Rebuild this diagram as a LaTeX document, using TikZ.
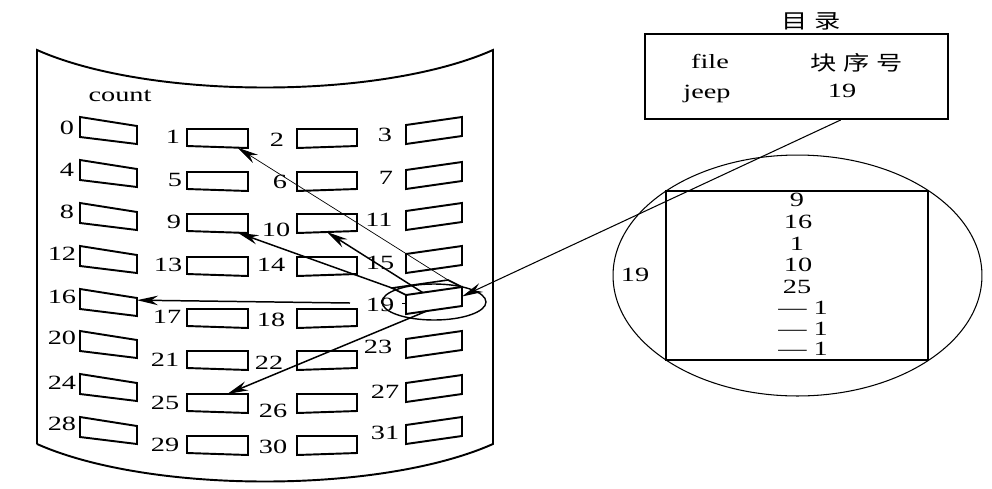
\documentclass[tikz,border=0pt]{standalone}
\usepackage{fontspec}
\setmainfont[FakeStretch=1.4]{Liberation Serif}
\newfontfamily\cjk[FakeStretch=1.3]{Noto Sans CJK SC}
\usetikzlibrary{arrows.meta,calc,shapes.geometric}

\begin{document}
\begin{tikzpicture}[
  x=0.02cm, y=-0.02cm,
  every node/.style={inner sep=0pt, font=\fontsize{11.5}{13}\selectfont},
  cjktext/.style={font=\cjk\fontsize{11.5}{13}\selectfont},
  cell/.style={draw, line width=1.1pt},
  disk/.style={draw, line width=1.1pt},
  ptr/.style={-{Stealth[length=4.2mm, width=1.9mm]}, line width=0.85pt},
  thinptr/.style={-{Stealth[length=4.2mm, width=1.9mm]}, line width=0.4pt}
]
\useasboundingbox (0,0) rectangle (992,488);

% disk surface
\draw[disk] (37,444) -- (37,50) .. controls (150,100) and (380,100) .. (493,50)
  -- (493,444) .. controls (380,494) and (150,494) .. (37,444);
\node (count) at (120,96) {count};

% blocks, one loop per column
\foreach \n/\r in {0/117,4/160,8/203,12/246,16/289,20/331,24/374,28/417} {
  \coordinate (blk\n-nw) at (80,\r);
  \coordinate (blk\n-ne) at (137,\r+9);
  \coordinate (blk\n-se) at (137,\r+27);
  \coordinate (blk\n-sw) at (80,\r+20);
}
\foreach \n/\r in {1/129,5/172,9/214,13/257,17/309,21/351,25/394,29/436} {
  \coordinate (blk\n-nw) at (187,\r);
  \coordinate (blk\n-ne) at (248,\r);
  \coordinate (blk\n-se) at (248,\r+19);
  \coordinate (blk\n-sw) at (187,\r+17);
}
\foreach \n/\r in {2/129,6/172,10/214,14/257,18/309,22/351,26/394,30/436} {
  \coordinate (blk\n-nw) at (297,\r);
  \coordinate (blk\n-ne) at (357,\r);
  \coordinate (blk\n-se) at (357,\r+17);
  \coordinate (blk\n-sw) at (297,\r+19);
}
\foreach \n/\r in {3/117,7/162,11/203,15/246,19/287,23/331,27/375,31/417} {
  \coordinate (blk\n-nw) at (406,\r+8);
  \coordinate (blk\n-ne) at (462,\r);
  \coordinate (blk\n-se) at (462,\r+19);
  \coordinate (blk\n-sw) at (406,\r+27);
}
\foreach \n in {0,...,31}
  \draw[cell] (blk\n-nw) -- (blk\n-ne) -- (blk\n-se) -- (blk\n-sw) -- cycle;

% block numbers
\foreach \n/\x/\y in {0/67/128,4/67/170,8/67/212,12/62/254,16/62/297,20/62/338,24/62/383,28/62/424,
  1/173/137,5/175/180,9/174/222,13/168/265,17/167/317,21/165/360,25/165/403,29/165/445,
  2/277/140,6/280/182,10/276/230,14/271/265,18/271/320,22/269/363,26/273/411,30/273/447,
  3/385/135,7/386/178,11/379/220,15/380/263,19/380/305,23/378/347,27/385/392,31/385/433}
  \node (num\n) at (\x,\y) {\n};

% block 19 drawn as a box, circled
\coordinate (top19-w) at ($(blk19-nw)+(-14,-7)$);
\coordinate (top19-e) at ($(blk19-ne)+(-14,-7)$);
\draw[line width=0.9pt] (blk19-nw) -- (top19-w) -- (top19-e) -- (blk19-ne);
\draw[line width=0.8pt] ($(blk19-nw)!0.45!(blk19-sw)+(-4,0)$) -- ++(5,0);
\node[draw, ellipse, line width=0.8pt, minimum width=2.08cm, minimum height=0.72cm] (sel) at (434,302) {};

% directory
\node[draw, line width=1.1pt, minimum width=6.06cm, minimum height=1.7cm] (dir) at (796.5,76.5) {};
\node[cjktext] (dirtitle) at (811.5,21) {目\hspace{3.8pt}录};
\node[anchor=base] (hfile) at (710,68) {file};
\node[cjktext] (hblk) at (857,63) {块\hspace{3.8pt}序\hspace{3.8pt}号};
\node[anchor=base] (fname) at (707,98) {jeep};
\node[anchor=base] (fblk) at (842,97) {19};

% index block, enlarged
\node[draw, ellipse, line width=0.6pt, minimum width=7.38cm, minimum height=4.82cm] (zoomview) at (797.5,275.5) {};
\node[draw, line width=1.1pt, minimum width=5.24cm, minimum height=3.38cm] (idx) at (797,275.5) {};
\node (idxnum) at (635,275) {19};
\foreach \t/\x/\y [count=\i] in {9/797/200,16/798/222,1/797/244,10/798/265,25/797/287,
  {— 1}/803/308,{— 1}/803/329,{— 1}/803/349}
  \node (ent\i) at (\x,\y) {\t};

% pointers
\draw[ptr, line width=0.6pt] ($(dir.south west)!0.645!(dir.south east)$) -- ($(blk19-ne)!0.5!(blk19-se)$);
\draw[thinptr] (top19-e) -- ($(blk1-sw)!0.83!(blk1-se)$);
\draw[ptr] (top19-w) -- ($(blk9-sw)!0.83!(blk9-se)$);
\draw[ptr] ($(blk19-nw)!0.3!(blk19-ne)$) -- ($(blk10-sw)!0.5!(blk10-se)$);
\coordinate (from16) at (350,303);
\draw[ptr] (from16) -- ($(blk16-ne)!0.12!(blk16-se)$);
\draw[ptr] ($(blk19-sw)!0.37!(blk19-se)$) -- ($(blk25-nw)!0.66!(blk25-ne)$);
\end{tikzpicture}
\end{document}
